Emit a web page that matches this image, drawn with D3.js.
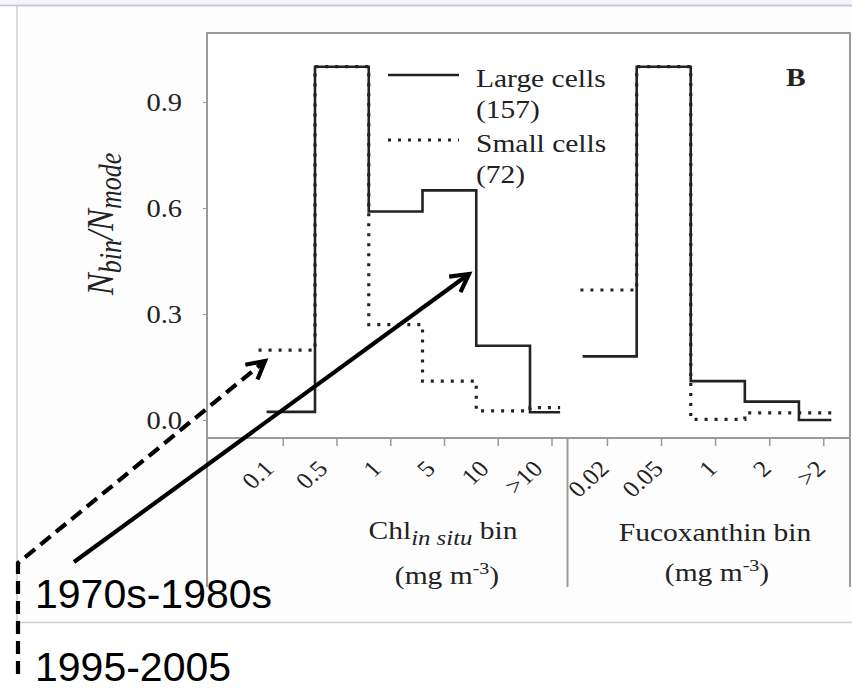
<!DOCTYPE html>
<html>
<head>
<meta charset="utf-8">
<script src="https://cdn.jsdelivr.net/npm/d3@7"></script>
<style>
  body { margin: 0; background: #fff; }
  svg { display: block; }
  .serif { font-family: "Liberation Serif", "Times New Roman", serif; fill: #222; }
  .sans { font-family: "Liberation Sans", Arial, sans-serif; fill: #000; }
</style>
</head>
<body>
<svg id="chart" width="852" height="689"></svg>
<script>
// bins + series (N_bin / N_mode)
var chlBins = ['0.1', '0.5', '1', '5', '10', '>10'];
var chlLarge = [0.023, 1.0, 0.59, 0.65, 0.21, 0.022];
var chlSmall = [0.198, 1.0, 0.27, 0.11, 0.026, 0.035];

var fucoBins = ['0.02', '0.05', '1', '2', '>2'];
var fucoLarge = [0.18, 1.0, 0.11, 0.052, 0.0];
var fucoSmall = [0.368, 1.0, 0.002, 0.02, 0.02];

var yTicks = [0.0, 0.3, 0.6, 0.9];

var legendItems = [
  {label: 'Large cells', count: '(157)', dotted: false},
  {label: 'Small cells', count: '(72)', dotted: true}
];

// the source figure was stretched sideways when pasted, so serif text gets a x-scale
var SX = 1.18;

var svg = d3.select('#chart');

function stext(x, y, size, anchor, extra) {
  return svg.append('text').attr('class', 'serif').attr('font-size', size)
    .attr('text-anchor', anchor || 'start')
    .attr('transform', 'translate(' + x + ',' + y + ') scale(' + SX + ',1)' + (extra || ''));
}

// page frame (it is a screenshot of a slide)
svg.append('rect').attr('x', 0).attr('y', 0).attr('width', 852).attr('height', 5).attr('fill', '#f4f6fb');
svg.append('rect').attr('x', 17).attr('y', 5.5).attr('width', 840).attr('height', 617)
  .attr('fill', '#fdfdfd').attr('stroke', '#cfcfcf').attr('stroke-width', 1.5);
svg.append('line').attr('x1', 0).attr('x2', 852).attr('y1', 5.5).attr('y2', 5.5)
  .attr('stroke', '#c8c8c8').attr('stroke-width', 1.5);

var plotL = 207, plotR = 850, plotT = 33, axisY = 438, panelB = 587, sepX = 567.5;

var y = d3.scaleLinear().domain([0, 1]).range([420, 66.7]);
var xL = d3.scaleLinear().domain([0, 6]).range([261.25, 583.75]);
var xR = d3.scaleLinear().domain([0, 5]).range([582.6, 853]);

// plot box
var box = svg.append('g').attr('stroke', '#9a9a9a').attr('stroke-width', 2).attr('fill', 'none');
box.append('rect').attr('x', plotL).attr('y', plotT).attr('width', plotR - plotL).attr('height', axisY - plotT)
  .attr('fill', '#fff');
box.append('line').attr('x1', plotL).attr('x2', plotL).attr('y1', axisY).attr('y2', panelB);
box.append('line').attr('x1', sepX).attr('x2', sepX).attr('y1', axisY).attr('y2', panelB);
box.append('line').attr('x1', plotR).attr('x2', plotR).attr('y1', axisY).attr('y2', panelB);

// y axis
var yAxis = d3.axisLeft(y).tickValues(yTicks).tickFormat(d3.format('.1f')).tickSize(4);
var gy = svg.append('g').attr('transform', 'translate(' + plotL + ',0)').call(yAxis);
gy.select('.domain').remove();
gy.selectAll('.tick line').attr('stroke', '#999');
gy.selectAll('.tick text').attr('class', 'serif').attr('font-size', 25).attr('fill', '#222')
  .attr('x', 0).attr('dy', '0.34em').attr('transform', 'translate(-25,0) scale(1.14,1)');

// x axes (ticks only, labels rotated)
function xAxis(scale, bins, offset, labelDx) {
  var g = svg.append('g').attr('transform', 'translate(0,' + axisY + ')');
  var ax = d3.axisBottom(scale)
    .tickValues(bins.map(function(d, i) { return i + offset; }))
    .tickFormat(function(d, i) { return bins[i]; })
    .tickSize(8);
  g.call(ax);
  g.select('.domain').remove();
  g.selectAll('.tick line').attr('stroke', '#999').attr('stroke-width', 1.5);
  g.selectAll('.tick text')
    .attr('class', 'serif')
    .attr('font-size', 23)
    .attr('fill', '#333')
    .attr('text-anchor', 'end')
    .attr('dy', null)
    .attr('y', 0)
    .attr('transform', 'translate(' + labelDx + ',32) scale(1.12,1) rotate(-45)');
}
xAxis(xL, chlBins, 0.4, -8);
xAxis(xR, fucoBins, 0.45, 3);

// step lines
function stepPath(x, vals, start, end) {
  var pts = vals.map(function(v, i) { return [i === 0 ? start : i, v]; });
  pts.push([end, vals[vals.length - 1]]);
  return d3.line().x(function(d) { return x(d[0]); }).y(function(d) { return y(d[1]); })
    .curve(d3.curveStepAfter)(pts);
}
function drawSeries(x, vals, start, end, dotted) {
  var p = svg.append('path').attr('d', stepPath(x, vals, start, end))
    .attr('fill', 'none').attr('stroke', '#222');
  if (dotted) {
    p.attr('stroke-width', 3.2).attr('stroke-dasharray', '3,7');
  } else {
    p.attr('stroke-width', 2.6);
  }
}
drawSeries(xL, chlLarge, 0.1, 5.56, false);
drawSeries(xR, fucoLarge, 0, 4.6, false);
drawSeries(xL, chlSmall, -0.05, 5.56, true);
drawSeries(xR, fucoSmall, -0.04, 4.6, true);

// legend
legendItems.forEach(function(d, i) {
  var yy = 75 + i * 65;
  var ln = svg.append('line').attr('x1', 388).attr('x2', 459).attr('y1', yy).attr('y2', yy)
    .attr('stroke', '#222');
  if (d.dotted) ln.attr('stroke-width', 3.2).attr('stroke-dasharray', '3,7');
  else ln.attr('stroke-width', 2.6);
  stext(476, yy + 11.5, 25).text(d.label);
  stext(476, yy + 42.5, 25).text(d.count);
});

// panel letter
stext(786, 86, 25).attr('font-weight', 'bold').attr('fill', '#111').text('B');

// y axis title
var yt = stext(113, 224, 33, 'middle', ' rotate(-90)').attr('font-style', 'italic');
yt.append('tspan').text('N');
yt.append('tspan').attr('font-size', 26).attr('baseline-shift', '-25%').text('bin');
yt.append('tspan').text('/N');
yt.append('tspan').attr('font-size', 26).attr('baseline-shift', '-25%').text('mode');

// x axis titles
var t1 = stext(443, 539, 25, 'middle');
t1.append('tspan').text('Chl');
t1.append('tspan').attr('font-size', 21).attr('font-style', 'italic').attr('baseline-shift', '-30%').text('in situ');
t1.append('tspan').text(' bin');

function unitLabel(cx, yy) {
  var t = stext(cx, yy, 25, 'middle');
  t.append('tspan').text('(mg m');
  t.append('tspan').attr('font-size', 17).attr('baseline-shift', '60%').text('-3');
  t.append('tspan').text(')');
}
unitLabel(447, 584);

stext(715, 541, 25, 'middle').text('Fucoxanthin bin');
unitLabel(717, 581);

// annotation arrows
function arrow(pts, dashed) {
  var g = svg.append('g').attr('stroke', '#000').attr('stroke-width', 4.2).attr('fill', 'none');
  var p = g.append('path').attr('d', d3.line()(pts));
  if (dashed) p.attr('stroke-dasharray', '13,7');
  var a = pts[pts.length - 1], b = pts[pts.length - 2];
  var ang = Math.atan2(a[1] - b[1], a[0] - b[0]);
  var len = 20, spread = 0.5;
  var head = [
    [a[0] - len * Math.cos(ang - spread), a[1] - len * Math.sin(ang - spread)],
    a,
    [a[0] - len * Math.cos(ang + spread), a[1] - len * Math.sin(ang + spread)]
  ];
  g.append('path').attr('d', d3.line()(head)).attr('stroke-linejoin', 'miter');
}
arrow([[18, 674], [18, 563], [265, 361]], true);
arrow([[74, 562], [469, 274]], false);

svg.append('text').attr('class', 'sans').attr('font-size', 41).attr('x', 35).attr('y', 608).text('1970s-1980s');
svg.append('text').attr('class', 'sans').attr('font-size', 41).attr('x', 35).attr('y', 681).text('1995-2005');
</script>
</body>
</html>
